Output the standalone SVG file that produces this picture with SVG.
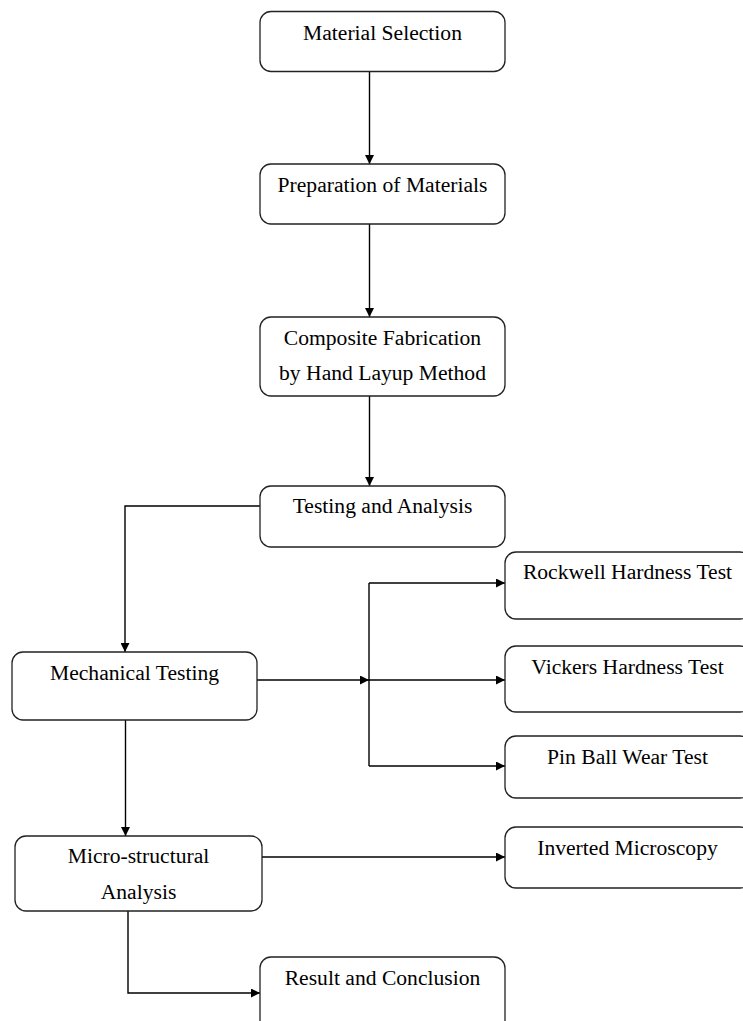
<svg xmlns="http://www.w3.org/2000/svg" width="743" height="1021" viewBox="0 0 743 1021">
<style>
.box{fill:#fff;stroke:#222;stroke-width:1.3}
.t{font-family:"Liberation Serif","Times New Roman",serif;font-size:21.6px;fill:#000;text-anchor:middle}
.c{fill:none;stroke:#000;stroke-width:1.4}
</style>
<defs>
<marker id="ah" viewBox="0 0 10 10" refX="10" refY="5" markerWidth="10" markerHeight="9" markerUnits="userSpaceOnUse" orient="auto">
<path d="M0,0 L10,5 L0,10 Z" fill="#000"/>
</marker>
</defs>
<rect width="743" height="1021" fill="#fff"/>
<g id="connectors">
<line class="c" x1="369.5" y1="72" x2="369.5" y2="164" marker-end="url(#ah)"/>
<line class="c" x1="369.5" y1="224" x2="369.5" y2="317" marker-end="url(#ah)"/>
<line class="c" x1="369.5" y1="396" x2="369.5" y2="486" marker-end="url(#ah)"/>
<polyline class="c" points="260,506 125,506 125,652" marker-end="url(#ah)"/>
<line class="c" x1="257" y1="680" x2="369" y2="680" marker-end="url(#ah)"/>
<line class="c" x1="369" y1="583" x2="369" y2="766"/>
<line class="c" x1="369" y1="583" x2="505" y2="583" marker-end="url(#ah)"/>
<line class="c" x1="369" y1="680" x2="505" y2="680" marker-end="url(#ah)"/>
<line class="c" x1="369" y1="766" x2="505" y2="766" marker-end="url(#ah)"/>
<line class="c" x1="125.5" y1="720" x2="125.5" y2="836" marker-end="url(#ah)"/>
<line class="c" x1="262" y1="857" x2="505" y2="857" marker-end="url(#ah)"/>
<polyline class="c" points="128,911 128,993 260,993" marker-end="url(#ah)"/>
</g>
<g id="n1"><rect class="box" x="260" y="11.5" width="245" height="60" rx="11"/><text class="t" x="382.5" y="40">Material Selection</text></g>
<g id="n2"><rect class="box" x="260" y="164" width="245" height="60" rx="11"/><text class="t" x="382.5" y="192">Preparation of Materials</text></g>
<g id="n3"><rect class="box" x="260" y="317" width="245" height="79" rx="11"/><text class="t" x="382.5" y="345">Composite Fabrication</text><text class="t" x="382.5" y="380">by Hand Layup Method</text></g>
<g id="n4"><rect class="box" x="260" y="486" width="245" height="61" rx="11"/><text class="t" x="382.5" y="513">Testing and Analysis</text></g>
<g id="n5"><rect class="box" x="12" y="652" width="245" height="68" rx="11"/><text class="t" x="134.5" y="680">Mechanical Testing</text></g>
<g id="n6"><rect class="box" x="505" y="552" width="246" height="67" rx="11"/><text class="t" x="627.5" y="579">Rockwell Hardness Test</text></g>
<g id="n7"><rect class="box" x="505" y="646" width="246" height="66" rx="11"/><text class="t" x="627.5" y="674">Vickers Hardness Test</text></g>
<g id="n8"><rect class="box" x="505" y="736" width="246" height="62" rx="11"/><text class="t" x="627.5" y="764">Pin Ball Wear Test</text></g>
<g id="n9"><rect class="box" x="15" y="836" width="247" height="75" rx="11"/><text class="t" x="138.5" y="863">Micro-structural</text><text class="t" x="138.5" y="899">Analysis</text></g>
<g id="n10"><rect class="box" x="505" y="827" width="246" height="61" rx="11"/><text class="t" x="627.5" y="855">Inverted Microscopy</text></g>
<g id="n11"><rect class="box" x="260" y="957" width="245" height="80" rx="11"/><text class="t" x="382.5" y="985">Result and Conclusion</text></g>
</svg>
